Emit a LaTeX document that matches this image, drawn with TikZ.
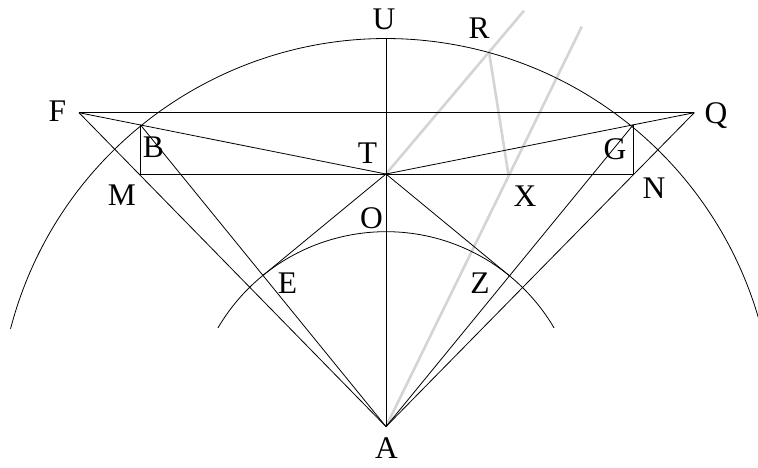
\documentclass[tikz,border=0pt]{standalone}
\usepackage{fontspec}
\setmainfont{Liberation Serif}
\definecolor{auxgray}{RGB}{212,212,212}
\tikzset{
  geo/.style={line width=0.8pt, draw=black},
  aux/.style={line width=2.6pt, draw=auxgray},
  lbl/.style={font=\fontsize{31.5}{36}\selectfont, inner sep=0pt, anchor=base},
}
\begin{document}
\begin{tikzpicture}[x=1pt,y=-1pt]
\useasboundingbox (0,0) rectangle (758,468);
\clip (0,0) rectangle (758,468);
% points
\coordinate (A) at (386,426.6);
\coordinate (U) at (386,38.6);
\coordinate (T) at (386,174);
\coordinate (B) at (140.3,124.7);
\coordinate (G) at (633.3,124.7);
\coordinate (M) at (140.3,174);
\coordinate (N) at (633.3,174);
\coordinate (F) at (79,112.7);
\coordinate (Q) at (694.3,112.7);
\coordinate (E) at (263,275.4);
\coordinate (Z) at (509.5,275.8);
\coordinate (R) at (489,51.7);
\coordinate (X) at (508.3,174);
\coordinate (Rend) at (524,10.7);
\coordinate (Xend) at (581.7,26.7);
% grey construction lines
\draw[aux] (T) -- (Rend);
\draw[aux] (R) -- (X);
\draw[aux] (A) -- (Xend);
% circles
\draw[geo] (A) ++(194.6:388) arc[start angle=194.6, end angle=345.4, radius=388];
\draw[geo] (A) ++(210.4:194.9) arc[start angle=210.4, end angle=329.6, radius=194.9];
% straight lines
\draw[geo] (F) -- (Q);
\draw[geo] (F) -- (T) -- (Q);
\draw[geo] (B) -- (M) -- (N) -- (G);
\draw[geo] (F) -- (A) -- (Q);
\draw[geo] (B) -- (A) -- (G);
\draw[geo] (E) -- (T) -- (Z);
\draw[geo] (U) -- (A);
% labels
\node[lbl] (lU) at (384,29.5) {U};
\node[lbl] (lR) at (479,39) {R};
\node[lbl] (lF) at (57.5,122) {F};
\node[lbl] (lQ) at (716,123.5) {Q};
\node[lbl] (lB) at (153.5,158) {B};
\node[lbl] (lT) at (367.5,164) {T};
\node[lbl] (lG) at (615,160) {G};
\node[lbl] (lM) at (122,205) {M};
\node[lbl] (lN) at (654,198) {N};
\node[lbl] (lX) at (525,207) {X};
\node[lbl] (lO) at (371.5,228) {O};
\node[lbl] (lE) at (287.5,293) {E};
\node[lbl] (lZ) at (480,293) {Z};
\node[lbl] (lA) at (386.5,458) {A};
\end{tikzpicture}
\end{document}
